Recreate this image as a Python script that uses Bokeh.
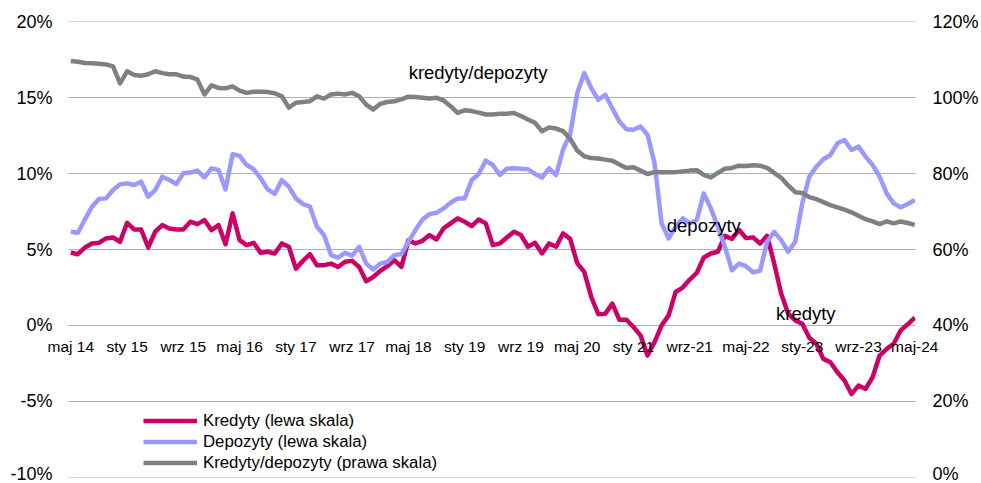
from bokeh.plotting import figure
from bokeh.models import (Range1d, LinearAxis, FixedTicker, PrintfTickFormatter,
                          Legend, LegendItem, Label)
from bokeh.embed import file_html
from bokeh.resources import INLINE

# ---- data (monthly, May 2014 .. May 2024) ----
kredyty = [4.80, 4.69, 5.13, 5.40, 5.44, 5.73, 5.79, 5.51, 6.76, 6.32,
           6.32, 5.13, 6.17, 6.61, 6.39, 6.32, 6.32, 6.83, 6.67, 6.94,
           6.28, 6.61, 5.35, 7.38, 5.62, 5.29, 5.44, 4.78, 4.85, 4.74,
           5.40, 5.18, 3.74, 4.25, 4.69, 3.96, 3.96, 4.07, 3.85, 4.19,
           4.25, 3.85, 2.91, 3.19, 3.59, 3.90, 4.30, 3.85, 5.60, 5.40,
           5.57, 5.95, 5.66, 6.39, 6.72, 7.05, 6.83, 6.54, 6.98, 6.72,
           5.29, 5.40, 5.79, 6.17, 5.95, 5.18, 5.44, 4.74, 5.40, 5.18,
           6.06, 5.70, 4.10, 3.52, 1.87, 0.73, 0.77, 1.43, 0.37, 0.37,
           -0.11, -0.66, -1.98, -1.10, 0.00, 0.66, 2.20, 2.49, 3.02, 3.46,
           4.47, 4.74, 4.85, 5.90, 5.70, 6.30, 5.75, 5.80, 5.40, 5.90,
           4.10, 2.10, 0.77, 0.33, 0.11, -0.82, -1.21, -2.21, -2.43, -3.09,
           -3.64, -4.53, -3.97, -4.19, -3.42, -1.99, -1.55, -1.21, -0.33, 0.07,
           0.51]

depozyty = [6.17, 6.10, 6.98, 7.82, 8.33, 8.37, 8.92, 9.30, 9.36, 9.25,
            9.47, 8.48, 8.92, 9.80, 9.58, 9.32, 10.02, 10.07, 10.20, 9.76,
            10.35, 10.24, 8.96, 11.28, 11.17, 10.57, 10.29, 9.69, 8.96, 8.66,
            9.58, 9.14, 8.37, 8.00, 7.82, 6.50, 5.95, 4.63, 4.47, 4.78,
            4.60, 5.18, 4.07, 3.68, 4.07, 4.19, 4.63, 4.70, 5.50, 6.28,
            6.98, 7.33, 7.42, 7.71, 8.08, 8.37, 8.37, 9.58, 9.98, 10.86,
            10.57, 9.91, 10.33, 10.35, 10.33, 10.29, 9.98, 9.74, 10.35, 9.91,
            11.61, 12.60, 15.30, 16.63, 15.64, 14.87, 15.20, 14.30, 13.44, 12.93,
            12.89, 13.10, 12.56, 10.68, 6.72, 5.73, 6.50, 7.05, 6.72, 6.94,
            8.70, 7.71, 6.50, 5.18, 3.63, 4.07, 3.90, 3.50, 3.60, 5.51,
            6.17, 5.62, 4.85, 5.51, 8.04, 9.80, 10.46, 10.95, 11.23, 12.00,
            12.22, 11.56, 11.78, 11.12, 10.57, 9.80, 8.70, 8.04, 7.78, 8.00,
            8.26]

kred_dep = [109.7, 109.5, 109.2, 109.1, 109.0, 108.8, 108.3, 103.8, 107.0, 106.0,
            105.8, 106.2, 107.0, 106.5, 106.2, 106.2, 105.6, 105.5, 104.8, 100.9,
            103.3, 102.6, 102.5, 103.0, 101.9, 101.3, 101.6, 101.6, 101.5, 101.2,
            100.4, 97.4, 98.7, 98.9, 99.1, 100.4, 99.8, 100.9, 101.1, 100.9,
            101.3, 100.4, 98.2, 96.9, 98.4, 98.9, 99.1, 99.6, 100.3, 100.2,
            100.0, 99.8, 100.0, 99.3, 97.8, 96.0, 96.7, 96.5, 96.1, 95.6,
            95.6, 95.8, 95.8, 96.0, 95.2, 94.3, 93.4, 91.2, 92.2, 91.9,
            91.2, 89.2, 86.1, 84.6, 84.1, 84.0, 83.7, 83.4, 82.4, 81.5,
            81.7, 80.8, 79.9, 80.4, 80.4, 80.4, 80.4, 80.6, 80.8, 80.9,
            79.7, 79.0, 80.2, 81.3, 81.5, 82.1, 82.0, 82.2, 82.1, 81.5,
            80.2, 78.9, 76.9, 75.1, 74.9, 73.8, 73.3, 72.5, 71.7, 71.1,
            70.5, 69.8, 68.9, 68.0, 67.4, 66.7, 67.4, 66.9, 67.4, 67.0,
            66.5]

x_tick_labels = ["maj 14", "sty 15", "wrz 15", "maj 16", "sty 17", "wrz 17",
                 "maj 18", "sty 19", "wrz 19", "maj 20", "sty 21", "wrz-21",
                 "maj-22", "sty-23", "wrz-23", "maj-24"]
tick_step = 8
left_ticks = [-10, -5, 0, 5, 10, 15, 20]
right_ticks = [0, 20, 40, 60, 80, 100, 120]

legend_labels = ["Kredyty (lewa skala)", "Depozyty (lewa skala)",
                 "Kredyty/depozyty (prawa skala)"]
annotations = [("kredyty/depozyty", 57.9, 16.65), ("depozyty", 90.0, 6.6),
               ("kredyty", 104.5, 0.77)]

months = list(range(len(kredyty)))
x_ticks = months[::tick_step]

FONT = "Liberation Sans"
C_K = "#CC0066"
C_D = "#9999FF"
C_R = "#808080"

p = figure(width=981, height=483, output_backend="svg", toolbar_location=None,
           x_range=Range1d(-0.33, 120.1), y_range=Range1d(-10.03, 20.03),
           min_border_left=68, min_border_right=65,
           min_border_top=21, min_border_bottom=6, outline_line_color=None,
           background_fill_color="white", border_fill_color="white")
p.extra_y_ranges = {"right": Range1d(-0.12, 120.12)}

p.xgrid.grid_line_color = None
p.ygrid.ticker = FixedTicker(ticks=left_ticks)
p.ygrid.grid_line_color = C_K
p.ygrid.grid_line_dash = "1 1"
p.ygrid.grid_line_width = 1
p.ygrid.grid_line_alpha = 0.85

r_k = p.line(months, kredyty, line_color=C_K, line_width=4.5, line_join="round")
r_d = p.line(months, depozyty, line_color=C_D, line_width=4.5, line_join="round")
r_r = p.line(months, kred_dep, line_color=C_R, line_width=4.5, line_join="round",
             y_range_name="right")

def style_axis(ax, standoff, size="18px"):
    ax.major_label_text_font = FONT
    ax.major_label_text_font_size = size
    ax.major_label_text_color = "#000000"
    ax.axis_line_color = None
    ax.major_tick_line_color = None
    ax.minor_tick_line_color = None
    ax.major_tick_out = 0
    ax.major_tick_in = 0
    ax.minor_tick_out = 0
    ax.minor_tick_in = 0
    ax.major_label_standoff = standoff

yl = p.yaxis[0]
yl.ticker = FixedTicker(ticks=left_ticks)
yl.formatter = PrintfTickFormatter(format="%d%%")
style_axis(yl, 16)

yr = LinearAxis(y_range_name="right", ticker=FixedTicker(ticks=right_ticks),
                formatter=PrintfTickFormatter(format="%d%%"))
style_axis(yr, 17)
p.add_layout(yr, "right")

# category axis: sits in the bottom panel, labels lifted up to the 0% line
xa = p.xaxis[0]
xa.ticker = FixedTicker(ticks=x_ticks)
xa.major_label_overrides = {t: lab for t, lab in zip(x_ticks, x_tick_labels)}
style_axis(xa, -140, "15.5px")

for txt, ax_, ay_ in annotations:
    p.add_layout(Label(x=ax_, y=ay_, text=txt, text_align="center",
                       text_baseline="alphabetic", text_font=FONT,
                       text_font_size="18.5px", text_color="#000000"))

legend = Legend(items=[LegendItem(label=legend_labels[0], renderers=[r_k]),
                       LegendItem(label=legend_labels[1], renderers=[r_d]),
                       LegendItem(label=legend_labels[2], renderers=[r_r])],
                location=(75, 4), orientation="vertical",
                glyph_width=54, glyph_height=21, label_height=21,
                label_standoff=6, spacing=0, padding=0, margin=0,
                border_line_color=None, background_fill_alpha=0,
                label_text_font=FONT, label_text_font_size="16.8px",
                label_text_color="#000000")
p.add_layout(legend)

open("out.html", "w").write(file_html(p, INLINE))
